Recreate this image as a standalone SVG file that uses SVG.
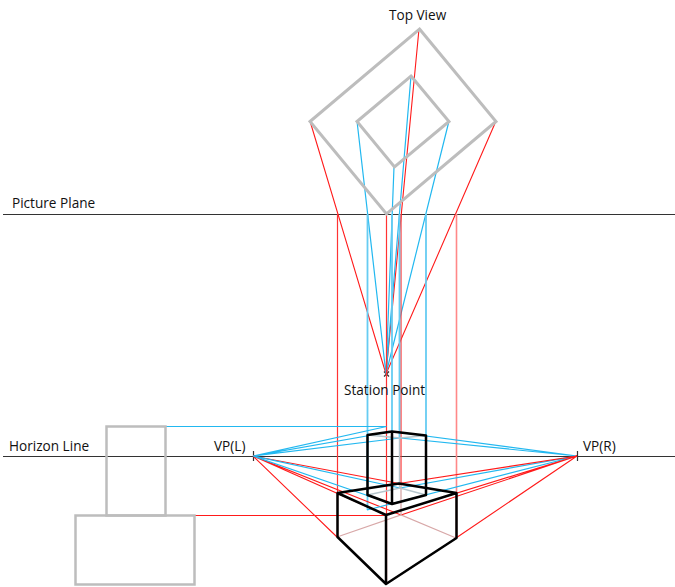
<svg xmlns="http://www.w3.org/2000/svg" width="675" height="587" viewBox="0 0 675 587">
<style>
text{font-family:"Open Sans","Noto Sans",sans-serif;font-size:13.6px;fill:#111}
.r{stroke:#ff1a1a;stroke-width:1.1;fill:none}
.c{stroke:#22b8f0;stroke-width:1.2;fill:none}
.cv{stroke:#66ccf2;stroke-width:1.8;fill:none}
.rv{stroke:#f33;stroke-width:1.2;fill:none}
.rp{stroke:#f88;stroke-width:1.6;fill:none}
.g{stroke:#bdbdbd;stroke-width:3;fill:none}
.k{stroke:#000;stroke-width:2.5;fill:none;stroke-linejoin:round}
.l{stroke:#333;stroke-width:1.2;fill:none}
.f{stroke:#d8a8a8;stroke-width:1.3;fill:none}
.fg{stroke:#b5c5cc;stroke-width:1.4;fill:none}
</style>
<g id="connectors">
<path class="l" d="M3 214.500H675M3 456.500H675"/>
<path class="l" d="M253.500 451V461M577.500 451V461M384 371.500L389 376.500M389 371.500L384 376.500"/>
<path class="r" d="M310 121L386 374M496 121L386 374M419 29L386 374"/>
<path class="c" d="M357 121L386 374M449 121L386 374M411 76L386 374M394 167L386 374"/>
<path class="rv" d="M337.500 214V537M386.500 214V584M401 214V484"/>
<path class="rp" d="M456.500 214V538"/>
<path class="cv" d="M367.500 214V510M392 214V504M426 214V495M399.500 214V438"/>
<path class="c" d="M165 426.500H386.500M253 456L386.500 426.500M253 456L392 431.500M253 456L400 438"/>
<path class="r" d="M165 515.500H386"/>
<path class="r" d="M253 456L337 537M253 456L386 515M253 456L401 515M253 456L399 483.500"/>
<path class="c" d="M253 456L400 488M253 456L392 504"/>
<path class="c" d="M577 456L392 431.500M577 456L400 438M577 456L400 488M577 456L367 510"/>
<path class="r" d="M577 456L456 538M577 456L386 515M577 456L401 515M577 456L399 483.500"/>
<path class="f" d="M337 537L401 515L456 538M401 484V515"/>
<path class="fg" d="M367.500 435L400 438L426 435.500M367.500 495L400 488L426 495M399.500 438V488"/>
</g>
<g id="top-view-outer"><path class="g" d="M419.500 29L496 121.500L386.500 214L310 121.500Z"/></g>
<g id="top-view-inner"><path class="g" d="M411 76L449 121.500L394.500 167L357 121.500Z"/></g>
<g id="elevation-upper"><rect class="g" x="106.500" y="426.500" width="59" height="89" style="stroke-width:2.500"/></g>
<g id="elevation-lower"><rect class="g" x="75.500" y="515.500" width="119" height="69" style="stroke-width:2.500"/></g>
<g id="upper-box"><path class="k" d="M367.500 495V435L392 431.500L426 435.500V495L392 504ZM392 431.500V504"/></g>
<g id="lower-box"><path class="k" d="M337.500 537V493L399 483.500L456.500 493V538L386 584ZM337.500 493L386 515L456.500 493M386 515V584"/></g>
<g id="labels">
<text x="389" y="20">Top View</text>
<text x="12" y="208">Picture Plane</text>
<text x="344" y="395">Station Point</text>
<text x="9" y="451">Horizon Line</text>
<text x="214" y="451">VP(L)</text>
<text x="583" y="451">VP(R)</text>
</g>
</svg>
